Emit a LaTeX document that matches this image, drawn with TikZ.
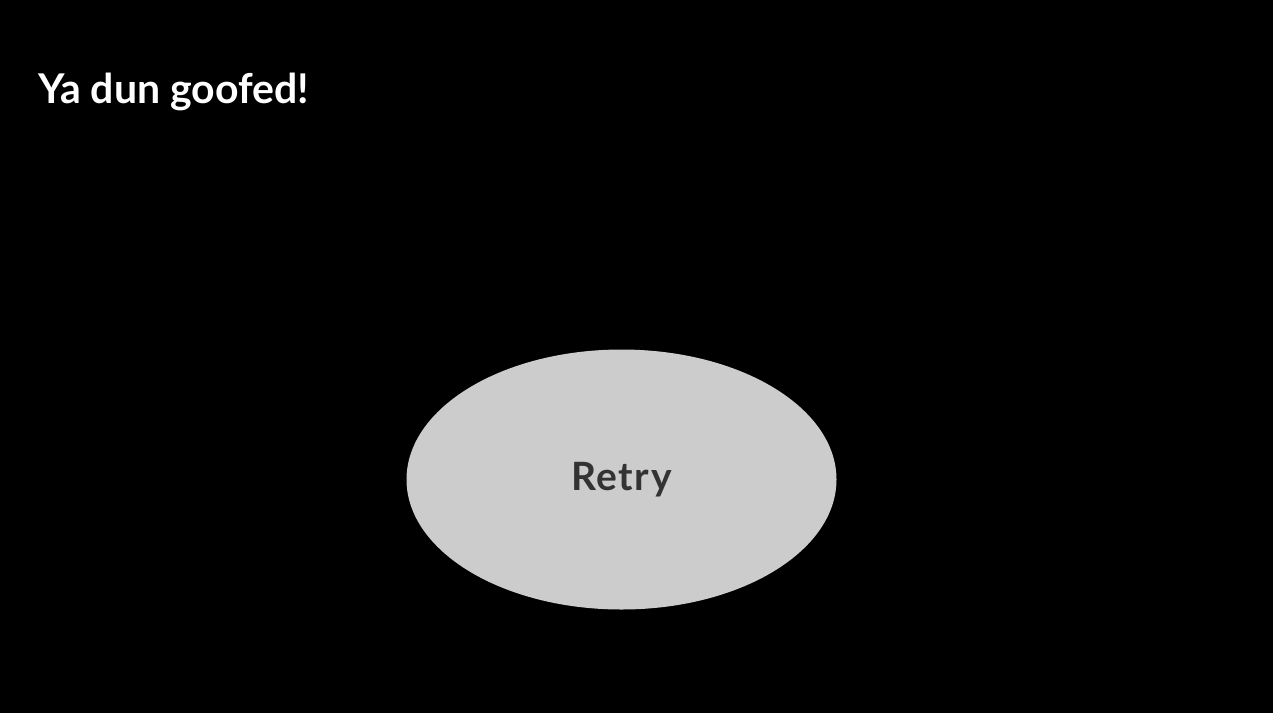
\documentclass[tikz,border=0pt]{standalone}
\usepackage{fontspec}
\setmainfont{Lato}
\usetikzlibrary{shapes.geometric}
\definecolor{bubblegray}{HTML}{CCCCCC}
\definecolor{textgray}{HTML}{333333}
\begin{document}
\begin{tikzpicture}[x=1pt,y=-1pt,
    title/.style={anchor=base west,text=white,font=\fontsize{41}{50}\selectfont\bfseries,inner sep=0pt},
    bubble/.style={ellipse,fill=bubblegray,minimum width=430pt,minimum height=260pt,inner sep=0pt,
      text=textgray,font=\addfontfeature{LetterSpace=4}\fontsize{39}{46}\selectfont\bfseries}]
      \fill[black] (0,0) rectangle (1273,713);
      \node[title] (heading) at (38,103) {Ya dun goofed!};
      \node[bubble] (retry) at (621.5,479.5) {Retry};
    \end{tikzpicture}
\end{document}
